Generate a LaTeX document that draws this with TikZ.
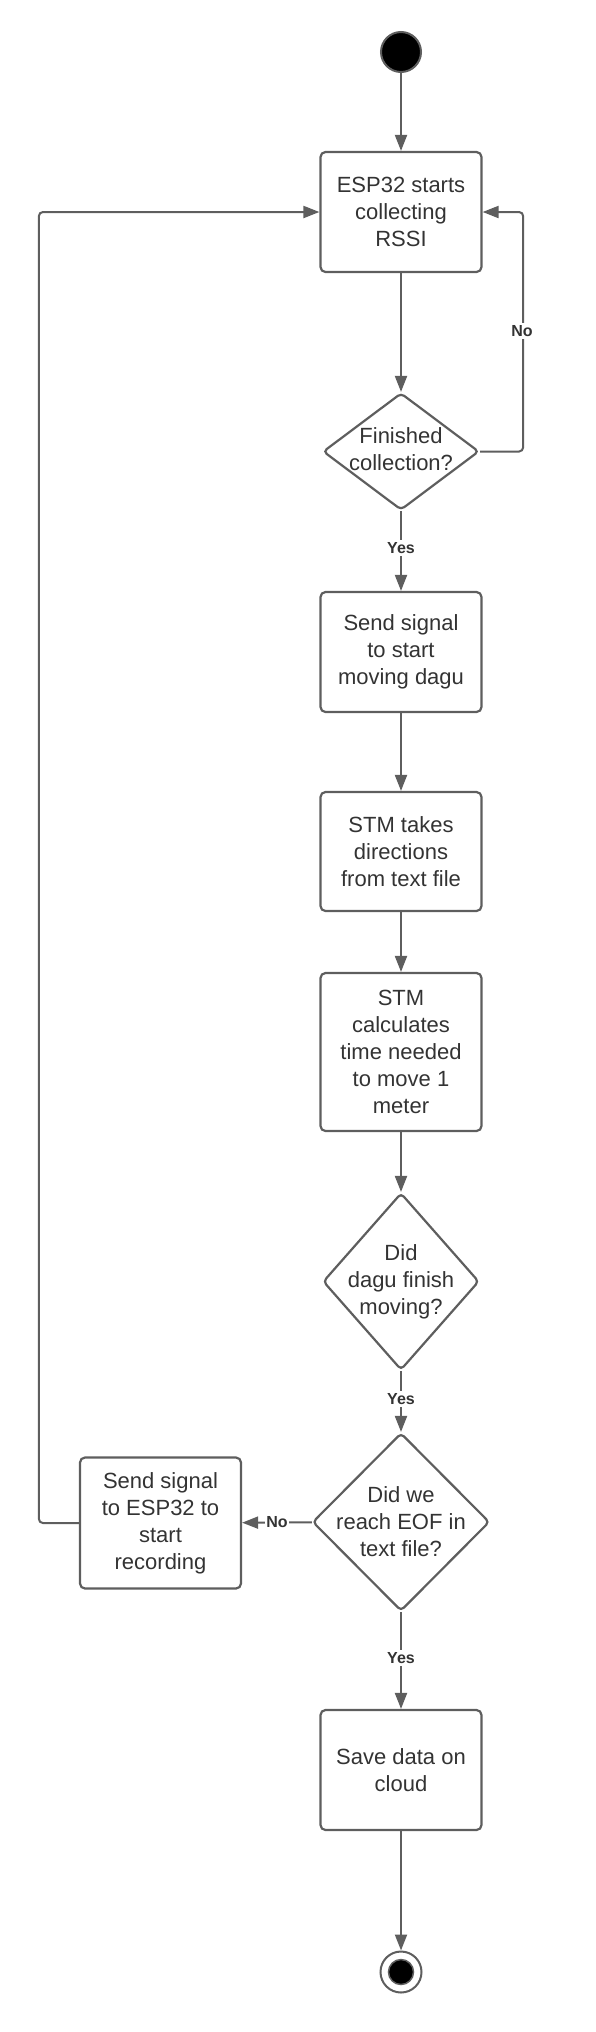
\documentclass[tikz,border=0pt]{standalone}
\usepackage{fontspec}
\setmainfont{Liberation Sans}
\usetikzlibrary{shapes.geometric,arrows.meta}
\definecolor{ln}{HTML}{5E5E5E}
\definecolor{tx}{HTML}{333333}
\begin{document}
\begin{tikzpicture}[x=1pt,y=-1pt,
  box/.style={draw=ln, line width=2.2pt, rounded corners=5pt, minimum width=161pt, minimum height=120pt, align=center, text=tx, font=\fontsize{22}{27}\selectfont, inner sep=0pt},
  dec/.style={diamond, draw=ln, line width=2.2pt, rounded corners=4pt, inner sep=0pt},
  dtxt/.style={align=center, text=tx, font=\fontsize{22}{27}\selectfont, inner sep=0pt},
  arr/.style={draw=ln, line width=2pt, -{Triangle[length=16pt,width=12pt]}},
  lbl/.style={fill=white, text=tx, font=\fontsize{16}{18}\selectfont\bfseries, inner sep=2pt}]
\useasboundingbox (0,0) rectangle (595,2032);
\node[circle, fill=black, draw=ln, line width=2pt, minimum size=40pt, inner sep=0pt] (start) at (401,52) {};
\node[box] (b1) at (401,212) {ESP32 starts\\collecting\\RSSI};
\node[dec, minimum width=156pt, minimum height=117pt] (d1) at (401,451.5) {};
\node[dtxt] (t1) at (401,449) {Finished\\collection?};
\node[box] (b2) at (401,652) {Send signal\\to start\\moving dagu};
\node[box, minimum height=119pt] (b3) at (401,851.5) {STM takes\\directions\\from text file};
\node[box, minimum height=158pt] (b4) at (401,1052) {STM\\calculates\\time needed\\to move 1\\meter};
\node[dec, minimum width=156pt, minimum height=177pt] (d2) at (401,1281.5) {};
\node[dtxt] (t2) at (401,1281.5) {Did\\dagu finish\\moving?};
\node[dec, minimum width=177pt, minimum height=178pt] (d3) at (401,1522) {};
\node[dtxt] (t3) at (401,1522) {Did we\\reach EOF in\\text file?};
\node[box, minimum height=131pt] (side) at (160.5,1523) {Send signal\\to ESP32 to\\start\\recording};
\node[box] (b5) at (401,1770) {Save data on\\cloud};
\node[circle, draw=ln, line width=2pt, minimum size=41pt, inner sep=0pt] (stop) at (401,1972) {};
\node[circle, fill=black, draw=ln, line width=1.5pt, minimum size=25pt, inner sep=0pt] (stopin) at (401,1972) {};

\draw[arr] (start) -- (b1);
\draw[arr] (b1) -- (d1);
\draw[arr, rounded corners=4pt] (d1.east) -- ++(43,0) |- (b1.east);
\draw[arr] (d1) -- (b2);
\draw[arr] (b2) -- (b3);
\draw[arr] (b3) -- (b4);
\draw[arr] (b4) -- (d2);
\draw[arr] (d2) -- (d3);
\draw[arr] (d3) -- (side);
\draw[arr, rounded corners=4pt] (side.west) -- ++(-40,0) |- (b1.west);
\draw[arr] (d3) -- (b5);
\draw[arr] (b5) -- (stop);

\node[lbl] (l1) at (522,331) {No};
\node[lbl] (l2) at (401,548) {Yes};
\node[lbl] (l3) at (401,1399) {Yes};
\node[lbl, inner sep=1pt] (l4) at (277,1522) {No};
\node[lbl] (l5) at (401,1658) {Yes};
\end{tikzpicture}
\end{document}
